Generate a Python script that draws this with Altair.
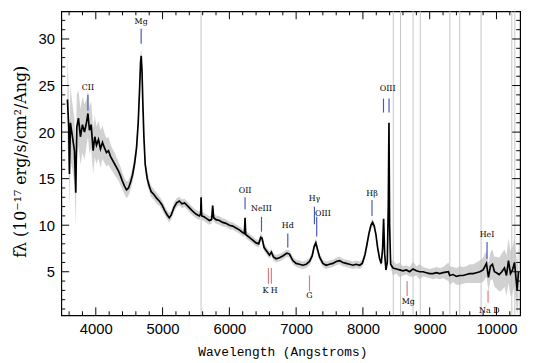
import altair as alt
import pandas as pd

# ---- spectrum ----
wl = [3575, 3595, 3605, 3620, 3650, 3680, 3700, 3715, 3740, 3770, 3800, 3830, 3860, 3882, 3905, 3930,
      3960, 3985, 4010, 4040, 4070, 4100, 4130, 4160, 4190, 4220, 4250, 4280, 4310, 4340, 4370, 4400,
      4430, 4460, 4490, 4520, 4550, 4580, 4610, 4635, 4655, 4670, 4680, 4692, 4705, 4720, 4740, 4770,
      4800, 4830, 4870, 4910, 4950, 4990, 5030, 5070, 5100, 5130, 5170, 5210, 5250, 5290, 5330, 5370,
      5410, 5450, 5500, 5550, 5570, 5577, 5585, 5620, 5660, 5700, 5735, 5750, 5765, 5800, 5850, 5900,
      5950, 6000, 6050, 6100, 6150, 6200, 6225, 6235, 6245, 6300, 6350, 6400, 6440, 6470, 6490, 6520,
      6560, 6600, 6630, 6660, 6700, 6750, 6800, 6860, 6900, 6950, 7000, 7050, 7100, 7150, 7200, 7240,
      7270, 7295, 7320, 7350, 7400, 7450, 7500, 7550, 7600, 7650, 7700, 7750, 7800, 7850, 7900, 7950,
      7990, 8030, 8060, 8090, 8120, 8145, 8170, 8195, 8220, 8250, 8275, 8295, 8310, 8325, 8345, 8365,
      8380, 8390, 8400, 8415, 8450, 8500, 8550, 8600, 8650, 8700, 8750, 8800, 8850, 8900, 8950, 9000,
      9050, 9100, 9150, 9200, 9280, 9300, 9350, 9400, 9450, 9500, 9550, 9600, 9650, 9700, 9750, 9800,
      9850, 9880, 9910, 9940, 9970, 10000, 10040, 10080, 10120, 10150, 10180, 10210, 10240, 10270,
      10290, 10310, 10330]
flux = [23.5, 20.5, 15.5, 21.0, 19.5, 18.0, 13.5, 20.5, 21.5, 19.5, 20.8, 20.0, 21.0, 22.0, 20.2, 20.8,
        18.0, 19.5, 18.6, 19.2, 18.2, 18.9, 18.3, 17.8, 18.0, 17.4, 17.0, 16.6, 16.2, 15.8, 15.3, 14.7,
        14.2, 13.8, 14.0, 14.6, 15.4, 16.6, 18.3, 21.0, 24.5, 27.5, 28.2, 26.5, 23.0, 19.5, 16.5, 15.0,
        14.2, 13.6, 13.3, 12.9, 12.6, 12.2, 11.6, 11.1, 10.8, 11.1, 11.9, 12.4, 12.6, 12.3, 12.4, 12.1,
        11.8, 11.5, 11.2, 11.0, 11.2, 13.0, 11.0, 10.9, 10.7, 10.5, 10.6, 12.1, 10.8, 10.6, 10.5, 10.3,
        10.2, 10.0, 9.9, 9.7, 9.5, 9.2, 9.1, 10.8, 9.0, 8.7, 8.4, 8.1, 8.0, 8.7, 8.6, 7.6,
        7.2, 6.8, 7.1, 6.6, 6.4, 6.5, 6.7, 7.0, 6.9, 6.2, 5.9, 5.8, 5.7, 5.8, 6.1, 6.7,
        7.7, 8.1, 7.4, 6.6, 5.9, 5.7, 5.8, 5.9, 6.1, 6.2, 6.0, 5.9, 5.8, 5.7, 5.8, 5.7,
        5.9, 6.8, 7.9, 9.1, 10.0, 10.3, 9.9, 9.0, 7.6, 6.4, 5.9, 7.5, 10.7, 7.0, 5.2, 6.0,
        12.0, 21.0, 10.0, 5.8, 5.4, 5.3, 5.2, 5.1, 5.2, 5.0, 5.3, 5.1, 5.0, 5.0, 4.9, 4.8,
        4.8, 4.9, 4.8, 4.9, 5.0, 4.6, 4.7, 4.5, 4.6, 4.6, 4.7, 4.8, 4.8, 4.9, 5.0, 5.2,
        5.9, 4.4, 5.6, 5.8, 5.0, 4.9, 4.7, 5.0, 5.4, 4.6, 6.2, 4.8, 5.2, 6.0,
        4.5, 3.0, 5.0]
err = [5, 4, 4, 4, 3.5, 3.5, 3.5, 3.5, 3, 3, 3, 3, 2.5, 2.5, 2.5, 2.5,
       2.5, 2.2, 2, 2, 2, 1.8, 1.6, 1.5, 1.5, 1.3, 1.2, 1.2, 1.1, 1, 1, 0.9,
       0.9, 0.9, 0.8, 0.8, 0.8, 0.8, 0.8, 0.8, 0.8, 0.8, 0.8, 0.8, 0.8, 0.8, 0.7, 0.7,
       0.6, 0.6, 0.6, 0.6, 0.5, 0.5, 0.5, 0.5, 0.5, 0.5, 0.5, 0.5, 0.45, 0.45, 0.45, 0.45,
       0.45, 0.45, 0.45, 0.45, 0.45, 0.45, 0.45, 0.45, 0.45, 0.45, 0.45, 0.45, 0.45, 0.45, 0.45, 0.45,
       0.4, 0.4, 0.4, 0.4, 0.4, 0.4, 0.4, 0.4, 0.4, 0.4, 0.4, 0.4, 0.4, 0.4, 0.4, 0.4,
       0.4, 0.4, 0.4, 0.4, 0.4, 0.4, 0.4, 0.4, 0.4, 0.4, 0.4, 0.4, 0.4, 0.4, 0.4, 0.4,
       0.4, 0.4, 0.4, 0.4, 0.4, 0.4, 0.4, 0.4, 0.4, 0.4, 0.4, 0.4, 0.4, 0.4, 0.4, 0.4,
       0.4, 0.4, 0.4, 0.4, 0.4, 0.4, 0.4, 0.4, 0.4, 0.4, 0.4, 0.4, 0.4, 0.4, 0.4, 0.4,
       0.4, 0.4, 0.4, 0.4, 0.8, 0.5, 0.8, 0.5, 0.5, 0.5, 0.8, 0.5, 0.8, 0.5, 0.5, 0.5,
       0.6, 0.6, 0.6, 0.6, 1.0, 1.0, 0.8, 0.9, 1.0, 0.9, 0.9, 1.0, 1.0, 1.1, 1.2, 1.3,
       1.4, 1.5, 1.5, 1.6, 1.6, 1.7, 1.8, 2.0, 2.0, 2.2, 2.4, 2.4, 2.5, 2.6,
       2.7, 2.8, 3.0]

# ---- sky lines ----
sky_wl = [5577, 8455, 8563, 8751, 8859, 9302, 9450, 9770, 10230, 10275]

# ---- emission (blue) and absorption (red) line markers ----
em_label = ["CII", "Mg", "OII", "NeIII", "Hd", "H\u03b3", "OIII", "H\u03b2", "OIII", "HeI"]
em_label_wl = [3882, 4679, 6235, 6481, 6875, 7274, 7400, 8136, 8370, 9859]
em_label_y = [24.7, 31.8, 13.7, 11.7, 9.9, 12.8, 11.2, 13.3, 24.6, 8.9]
em_tick_wl = [3882, 4679, 6235, 6481, 6875, 7274, 7308, 8136, 8308, 8391, 9859]
em_tick_top = [24.0, 31.1, 13.0, 10.9, 9.1, 12.0, 10.9, 12.7, 23.6, 23.6, 8.2]
em_tick_bot = [22.3, 29.5, 11.7, 9.3, 7.6, 10.1, 8.8, 11.0, 22.1, 22.1, 6.4]

ab_label = ["K H", "G", "Mg", "Na D"]
ab_label_wl = [6610, 7200, 8680, 9893]
ab_label_y = [2.9, 2.4, 1.7, 0.75]
ab_tick_wl = [6585, 6629, 7200, 8662, 9874]
ab_tick_top = [5.4, 5.4, 4.6, 4.0, 3.0]
ab_tick_bot = [3.7, 3.7, 2.9, 2.4, 1.7]

# ---- axis ticks ----
x_minor = [w for w in range(3600, 10400, 200) if w % 1000 != 0]
x_major = [4000, 5000, 6000, 7000, 8000, 9000, 10000]
y_minor = [v for v in range(1, 33) if v % 5 != 0]
y_major = [5, 10, 15, 20, 25, 30]

W, H = 465, 308
XD = [3483, 10354]
YD = [0.33, 32.97]
xs = alt.Scale(domain=XD, nice=False, zero=False)
ys = alt.Scale(domain=YD, nice=False, zero=False)

spec = pd.DataFrame({"wl": wl, "flux": flux, "err": err})
spec["lo"] = spec["flux"] - spec["err"]
spec["hi"] = spec["flux"] + spec["err"]

XT = "Wavelength (Angstroms)"
YT = "f\u03bb (10\u207b\u00b9\u2077 erg/s/cm\u00b2/Ang)"
xaxis = alt.Axis(values=x_major, format="d", ticks=False, domain=False, grid=False,
                 labelFont="Liberation Sans", labelFontSize=15, labelColor="black", labelPadding=7,
                 title=XT, titleFont="Liberation Mono", titleFontSize=13, titleFontWeight="normal",
                 titleColor="black", titleX=224, titleY=37, titleBaseline="middle")
yaxis = alt.Axis(values=y_major, format="d", ticks=False, domain=False, grid=False,
                 labelFont="Liberation Sans", labelFontSize=15, labelColor="black", labelPadding=7,
                 title=YT, titleFont="DejaVu Serif", titleFontSize=16, titleFontWeight="normal",
                 titleColor="black", titleX=-41, titleY=152, titleBaseline="middle")


def X(f):
    return alt.X(f, type="quantitative", scale=xs, axis=xaxis, title=XT)


def Y(f):
    return alt.Y(f, type="quantitative", scale=ys, axis=yaxis, title=YT)


sky = alt.Chart(pd.DataFrame({"wl": sky_wl})).mark_rule(color="#c4c4c4", strokeWidth=1).encode(
    x=X("wl"), y=alt.value(0), y2=alt.value(H))

band = alt.Chart(spec).mark_area(color="#c2c2c2", opacity=0.75).encode(
    x=X("wl"), y=Y("lo"), y2="hi")

line = alt.Chart(spec).mark_line(color="black", strokeWidth=1.7).encode(
    x=X("wl"), y=Y("flux"))

em_ticks = alt.Chart(pd.DataFrame({"wl": em_tick_wl, "t": em_tick_top, "b": em_tick_bot})).mark_rule(
    color="#4a58b8", strokeWidth=1.2).encode(x=X("wl"), y=Y("t"), y2="b")
ab_ticks = alt.Chart(pd.DataFrame({"wl": ab_tick_wl, "t": ab_tick_top, "b": ab_tick_bot})).mark_rule(
    color="#e07a7a", strokeWidth=1.2).encode(x=X("wl"), y=Y("t"), y2="b")

em_text = alt.Chart(pd.DataFrame({"wl": em_label_wl, "y": em_label_y, "lab": em_label})).mark_text(
    font="DejaVu Serif", fontSize=8, color="black", baseline="middle").encode(
    x=X("wl"), y=Y("y"), text="lab:N")
ab_text = alt.Chart(pd.DataFrame({"wl": ab_label_wl, "y": ab_label_y, "lab": ab_label})).mark_text(
    font="DejaVu Serif", fontSize=8, color="black", baseline="middle").encode(
    x=X("wl"), y=Y("y"), text="lab:N")


def xticks(vals, y1, y2):
    return alt.Chart(pd.DataFrame({"wl": vals})).mark_rule(color="black", strokeWidth=1).encode(
        x=X("wl"), y=alt.value(y1), y2=alt.value(y2))


def yticks(vals, x1, x2):
    return alt.Chart(pd.DataFrame({"v": vals})).mark_rule(color="black", strokeWidth=1).encode(
        y=Y("v"), x=alt.value(x1), x2=alt.value(x2))


tick_layers = [
    xticks(x_minor, H, H - 4), xticks(x_major, H, H - 8),
    xticks(x_minor, 0, 4), xticks(x_major, 0, 8),
    yticks(y_minor, 0, 4), yticks(y_major, 0, 8),
    yticks(y_minor, W, W - 4), yticks(y_major, W, W - 8),
]

chart = alt.layer(sky, band, line, em_ticks, ab_ticks, em_text, ab_text, *tick_layers).properties(
    width=W, height=H, autosize=alt.AutoSizeParams(type="none"),
    padding={"left": 54, "top": 1, "right": 8, "bottom": 44},
    background="white",
).configure_view(stroke="black", strokeWidth=1.2)

chart.save("out.html", embed_options={"renderer": "svg", "actions": False})
